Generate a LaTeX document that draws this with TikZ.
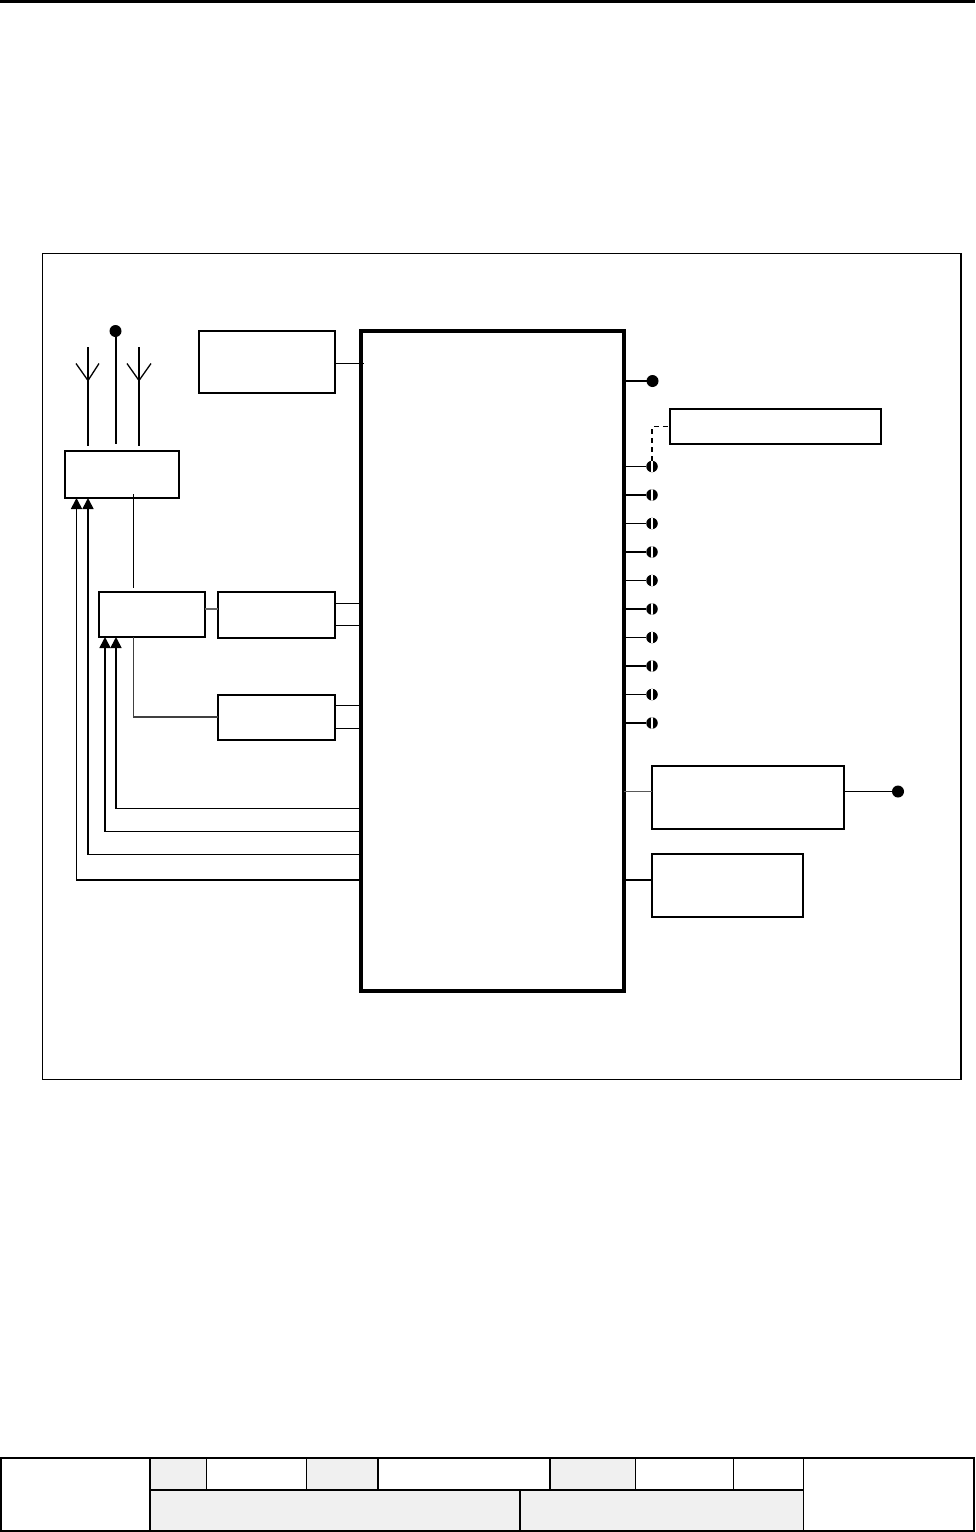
\documentclass[tikz,border=0pt]{standalone}
\usetikzlibrary{arrows.meta}
\tikzset{
  x=1pt,y=-1pt,
  boxn/.style={draw=black,line width=1.8pt,fill=white,inner sep=0pt,outer sep=0pt},
  wire/.style={draw=black,line width=1.5pt},
  thinwire/.style={draw=black,line width=1.3pt},
  arrowwire/.style={draw=black,line width=1.7pt,-{Triangle[width=11pt,length=11pt]}},
  fulldot/.style={circle,fill=black,inner sep=0pt,outer sep=0pt,minimum size=12pt},
  halfdot/.style={circle,fill=black,inner sep=0pt,outer sep=0pt,minimum size=11.5pt,path picture={\draw[white,line width=1.1pt] (path picture bounding box.north) -- (path picture bounding box.south);}},
  cell/.style={draw=black,line width=1.4pt},
  heavycell/.style={draw=black,line width=2.2pt}
}
\newcommand{\blockat}[6][]{\node[boxn,#1,minimum width=#4pt-#2pt,minimum height=#5pt-#3pt] (#6) at ({(#2+#4)/2},{(#3+#5)/2}) {};}
\begin{document}
\begin{tikzpicture}
\useasboundingbox (0,0) rectangle (975,1532);
% top rule and frame
\coordinate (ruleL) at (0,1.4); \coordinate (ruleR) at (975,1.4);
\draw[black,line width=2.8pt] (ruleL) -- (ruleR);
\draw[black,line width=1.3pt] (42.5,253.5) rectangle (961,1079.5);
% blocks
\blockat[line width=4pt]{361}{330.5}{624}{991}{main}
\blockat{199}{331}{335}{393}{osc}
\blockat{65}{451}{179}{498}{sw}
\blockat{99}{592}{205}{637}{lna}
\blockat{218}{592}{335}{638}{rx}
\blockat{218}{695}{335}{740}{tx}
\blockat{670}{409}{881}{444}{note}
\blockat{652}{766}{844}{829}{audio}
\blockat{652}{854}{803}{917}{mem}
% left, antenna
\coordinate (antA) at (88,347); \coordinate (antAb) at (88,446);
\coordinate (antAl) at (76,363.5); \coordinate (antAr) at (99,363.5); \coordinate (antAm) at (88,380.5);
\coordinate (antB) at (139,347); \coordinate (antBb) at (139,446);
\coordinate (antBl) at (127,363.5); \coordinate (antBr) at (151,363.5); \coordinate (antBm) at (139,380.5);
\coordinate (extB) at (115.5,444);
\node[fulldot] (ext) at (115.5,331) {};
\draw[thinwire] (antA) -- (antAb);
\draw[thinwire] (antAl) -- (antAm) -- (antAr);
\draw[thinwire] (antB) -- (antBb);
\draw[thinwire] (antBl) -- (antBm) -- (antBr);
\draw[wire,line width=2pt] (ext) -- (extB);
% between blocks
\coordinate (swlnaT) at (133.5,494); \coordinate (swlnaB) at (133.5,588);
\draw[thinwire] (swlnaT) -- (swlnaB);
\coordinate (y609) at (0,609); \draw[wire,black!60] (lna.east |- y609) -- (rx.west |- y609);
\coordinate (txb) at (133.5,717);
\draw[wire,black!75] (txb |- lna.south) -- (txb) -- (tx.west |- txb);
\coordinate (y363) at (0,363.5); \draw[wire] (osc.east |- y363) -- (364,363.5);
\coordinate (y603) at (0,603.5); \draw[thinwire] (rx.east |- y603) -- (main.west |- y603);
\coordinate (y625) at (0,625.5); \draw[wire] (rx.east |- y625) -- (main.west |- y625);
\coordinate (y706) at (0,705.5); \draw[thinwire] (tx.east |- y706) -- (main.west |- y706);
\coordinate (y729) at (0,728.5); \draw[thinwire] (tx.east |- y729) -- (main.west |- y729);
% control arrows
\coordinate (c1) at (116,808.5); \coordinate (c2) at (105,831.5);
\coordinate (c3) at (88,854.5); \coordinate (c4) at (76.5,880);
\draw[arrowwire] (main.west |- c1) -- (c1) -- (c1 |- lna.south);
\draw[arrowwire] (main.west |- c2) -- (c2) -- (c2 |- lna.south);
\draw[arrowwire] (main.west |- c3) -- (c3) -- (c3 |- sw.south);
\draw[arrowwire] (main.west |- c4) -- (c4) -- (c4 |- sw.south);
% right side pins
\node[fulldot] (pin0) at (652.5,381) {};
\draw[wire] (main.east |- pin0) -- (pin0);
\foreach \n/\yy in {1/466.5,2/495,3/523.5,4/552,5/580.5,6/609,7/637.5,8/666,9/694.5,10/723}{
  \node[halfdot] (pin\n) at (652,\yy) {};
  \draw[wire] (main.east |- pin\n) -- (pin\n);
}
\coordinate (dashc) at (pin1 |- note.west);
\draw[black,line width=1.1pt,dash pattern=on 5pt off 4pt] (pin1) -- (dashc) -- (note.west);
\coordinate (y792) at (0,791.5);
\draw[wire,black!65] (main.east |- y792) -- (audio.west |- y792);
\node[fulldot] (spk) at (898,791.5) {};
\draw[wire,line width=1.8pt] (audio.east |- spk) -- (spk);
\coordinate (y880) at (0,880);
\draw[wire] (main.east |- y880) -- (mem.west |- y880);
% footer table
\fill[black!6] (150,1458) rectangle (206.5,1490);
\fill[black!6] (306.5,1458) rectangle (378,1490);
\fill[black!6] (550,1458) rectangle (635,1490);
\fill[black!6] (150,1490) rectangle (803.5,1531);
\draw[heavycell] (0.8,1458) rectangle (974.2,1531);
\draw[heavycell] (150,1490) -- (803.5,1490);
\draw[cell] (150,1458) -- (150,1531);
\draw[cell] (803.5,1458) -- (803.5,1531);
\draw[cell] (520,1490) -- (520,1531);
\draw[cell] (206.5,1458) -- (206.5,1490);
\draw[cell] (306.5,1458) -- (306.5,1490);
\draw[cell] (378,1458) -- (378,1490);
\draw[cell] (550,1458) -- (550,1490);
\draw[black,line width=.8pt] (635,1458) -- (635,1490);
\draw[black,line width=.8pt] (733.5,1458) -- (733.5,1490);
\end{tikzpicture}
\end{document}
